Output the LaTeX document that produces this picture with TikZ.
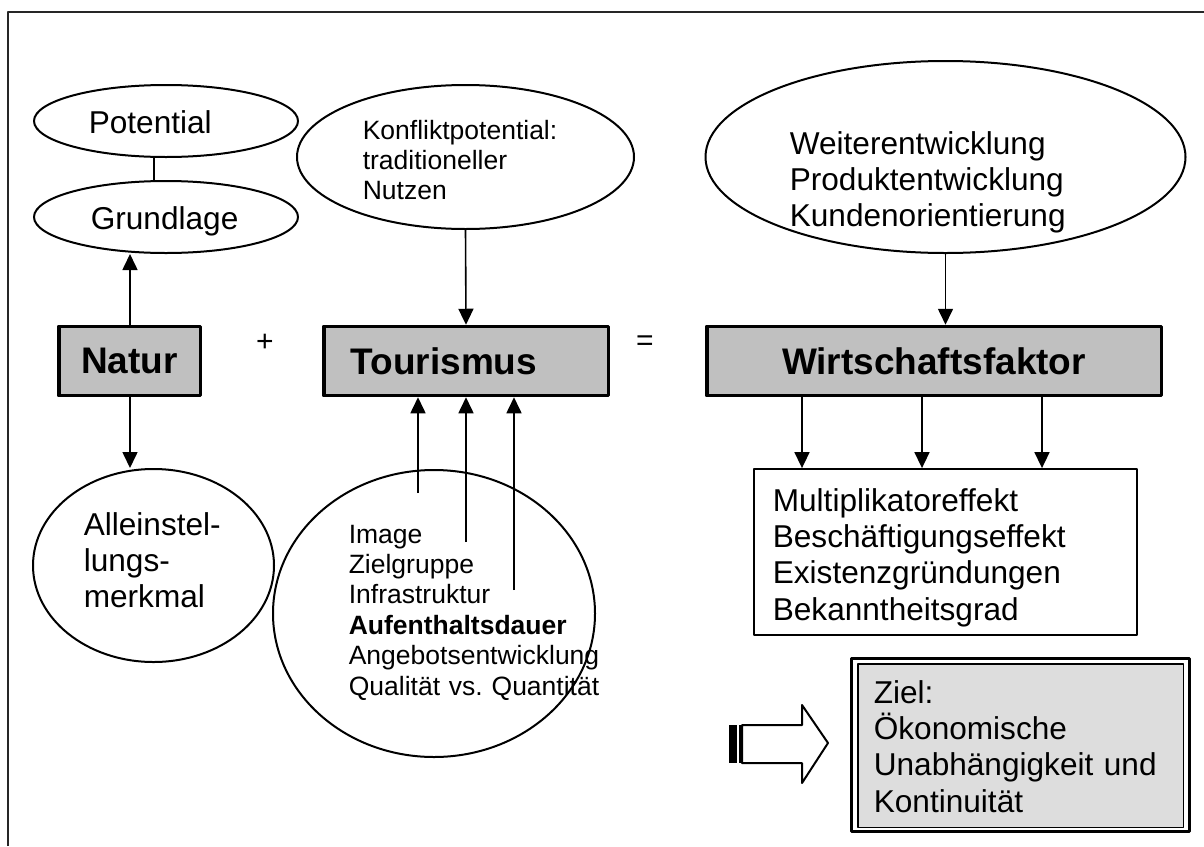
\documentclass[tikz,border=0pt]{standalone}
\usepackage{fontspec}
\setmainfont{Liberation Sans}
\usetikzlibrary{shapes.geometric,arrows.meta}
\definecolor{boxgray}{HTML}{C0C0C0}
\definecolor{zielgray}{HTML}{DDDDDD}
\begin{document}
\begin{tikzpicture}[x=1pt,y=-1pt,line join=round,>={Triangle[length=16pt,width=15pt]},line width=1.6pt]
	\tikzset{oval/.style={ellipse,draw,line width=2pt,inner sep=0pt},
		bigbox/.style={rectangle,draw,line width=3.5pt,fill=boxgray,minimum height=69pt,font=\fontsize{37}{42}\selectfont\bfseries},
		lbl/.style={anchor=base west,inner sep=0pt,text width=400pt,align=left,font=\fontsize{31.6}{36.4}\selectfont},
		lblsmall/.style={lbl,font=\fontsize{26.5}{30.4}\selectfont}}
	\useasboundingbox (0,0) rectangle (1204,846);
	\draw[line width=2.5pt,black!85] (8,846) -- (8,12) -- (1204,12);
	% Natur
	\node[oval,minimum width=264pt,minimum height=72pt] (potE) at (166,121) {};
	\node[oval,minimum width=264pt,minimum height=72pt] (grundE) at (166,217) {};
	\node[lbl] (pot) at (88,133) {Potential};
	\node[lbl] (grund) at (90,229) {Grundlage};
	\draw (potE.south -| 154,0) -- (grundE.north -| 154,0);
	\node[bigbox,minimum width=141.5pt] (natur) at (129.5,361) {Natur};
	\draw[->] (natur.north -| 130,0) -- (grundE.south -| 130,0);
	\node[oval,minimum width=241pt,minimum height=193pt] (alleinE) at (153.5,565.5) {};
	\node[lbl] (allein) at (83,535) {Alleinstel-\\lungs-\\merkmal};
	\draw[->] (natur.south -| 130,0) -- (alleinE.north -| 130,0);
	\node[font=\fontsize{30}{36}\selectfont] (plus) at (265,343) {+};
	% Tourismus
	\node[oval,minimum width=337pt,minimum height=144pt] (konfE) at (465.5,157) {};
	\node[lblsmall] (konf) at (362,139) {Konfliktpotential:\\traditioneller\\Nutzen};
	\node[bigbox,text width=230.5pt,inner xsep=27pt,align=left] (tour) at (466,361) {Tourismus};
	\draw[->] (konfE.south) -- (tour.north);
	\node[oval,minimum width=322pt,minimum height=287pt] (tourE) at (434,613.5) {};
	\node[lblsmall] (tourlist) at (348,543) {Image\\Zielgruppe\\Infrastruktur\\\textbf{Aufenthaltsdauer}\\Angebotsentwicklung\\Qualität vs.\ Quantität};
	\foreach \x/\y in {418/493,466/542,514/590}
	\draw[->] (\x,\y) -- (tour.south -| \x,0);
	\node[font=\fontsize{30}{36}\selectfont] (eq) at (645,343) {=};
	% Wirtschaftsfaktor
	\node[oval,minimum width=480pt,minimum height=192pt] (weitE) at (945.5,157) {};
	\node[lbl] (weit) at (789,154) {Weiterentwicklung\\Produktentwicklung\\Kundenorientierung};
	\node[bigbox,minimum width=454.5pt] (wf) at (934,361) {Wirtschaftsfaktor};
	\draw[->] (weitE.south) -- (weitE.south |- wf.north);
	\node[draw,line width=1.8pt,minimum width=383pt,minimum height=166pt] (eff) at (945.5,552) {};
	\node[lbl] (efflist) at (772,511) {Multiplikatoreffekt\\Beschäftigungseffekt\\Existenzgründungen\\Bekanntheitsgrad};
	\foreach \x in {802,922,1042}
	\draw[->] (wf.south -| \x,0) -- (eff.north -| \x,0);
	% Ziel
	\draw[line width=2pt] (742,725) -- (802,725) -- (802,705) -- (828,743) -- (802,783) -- (802,763) -- (742,763) -- cycle;
	\fill (729,725) rectangle (737,763);
	\fill (739,725) rectangle (742,763);
	\node[draw,line width=3pt,minimum width=338pt,minimum height=173pt] (zielO) at (1020.5,745) {};
	\node[draw,fill=zielgray,line width=1.5pt,minimum width=325.5pt,minimum height=163.5pt] (ziel) at (1020.5,745.5) {};
	\node[lbl] (ziellbl) at (873,703) {Ziel:\\Ökonomische\\Unabhängigkeit und\\Kontinuität};
\end{tikzpicture}
\end{document}
